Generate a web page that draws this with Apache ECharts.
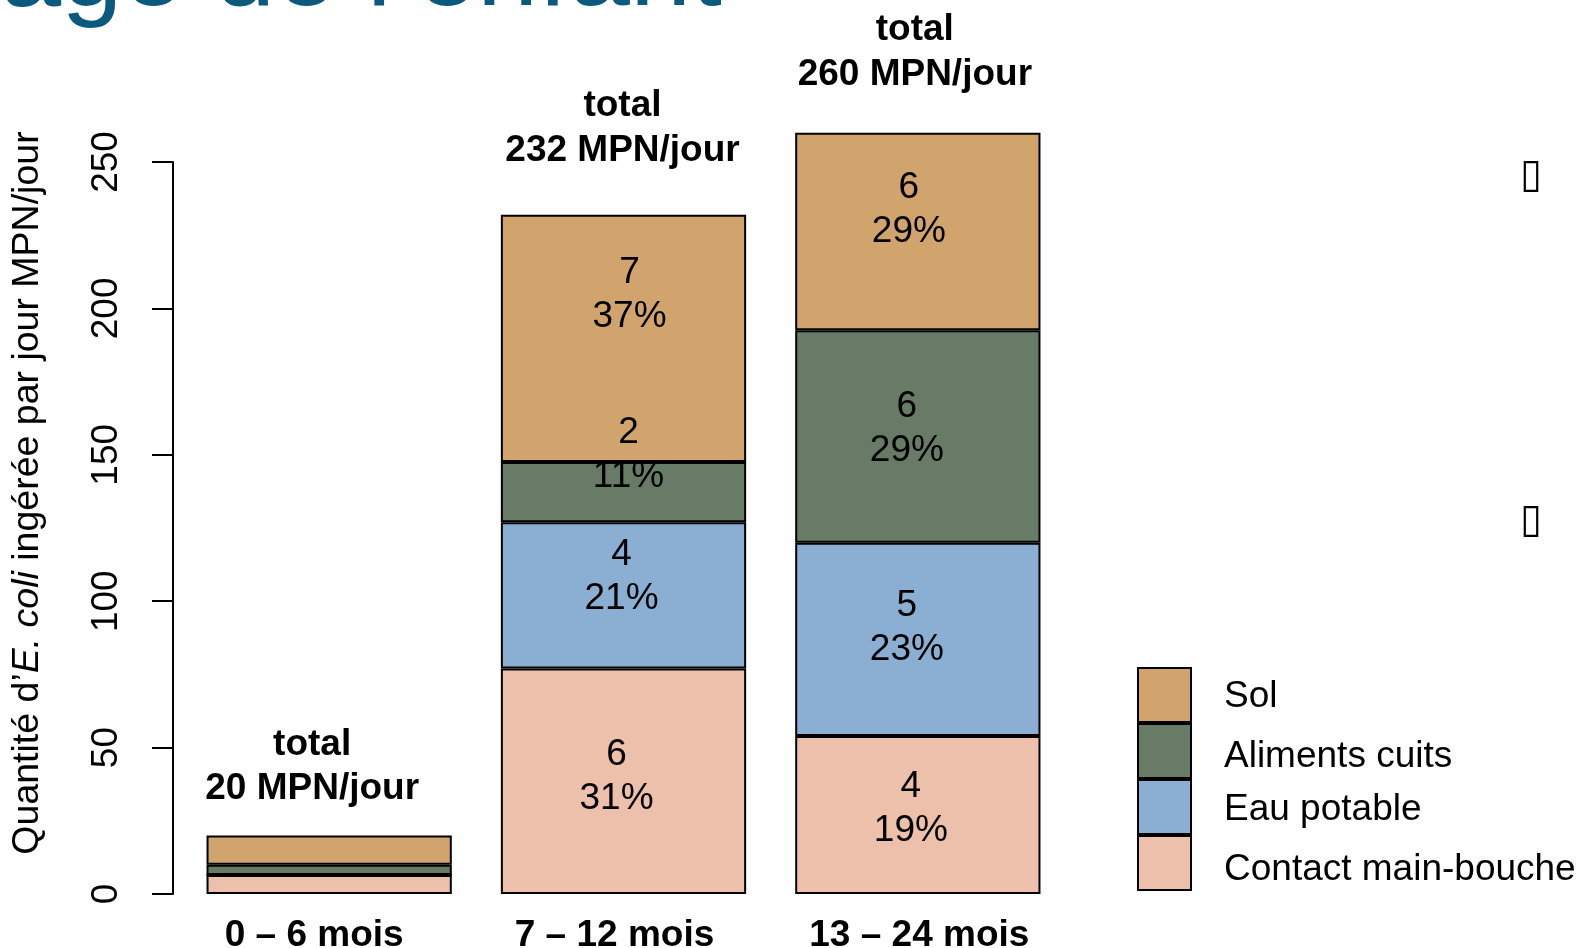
<!DOCTYPE html>
<html>
<head>
<meta charset="utf-8">
<script src="https://cdn.jsdelivr.net/npm/echarts@6/dist/echarts.min.js"></script>
<style>
  html, body { margin: 0; padding: 0; background: #ffffff; }
  #chart { width: 1581px; height: 948px; }
</style>
</head>
<body>
<div id="chart"></div>
<script>
// Age groups on the x axis
const categories = ['0 – 6 mois', '7 – 12 mois', '13 – 24 mois'];

// Daily E. coli intake (MPN/jour) by exposure route, one value per age group
const contactMainBouche = [6.5, 77, 54];
const eauPotable        = [0, 50, 66];
const alimentsCuits     = [3.5, 20.5, 72.5];
const sol               = [10, 84.5, 67.5];

// Text printed inside each segment: first line, second line (share of the total)
const contactLabels  = [null, ['6', '31%'], ['4', '19%']];
const eauLabels      = [null, ['4', '21%'], ['5', '23%']];
const alimentsLabels = [null, ['2', '11%'], ['6', '29%']];
const solLabels      = [null, ['7', '37%'], ['6', '29%']];

// Legend order (top to bottom)
const legendOrder = ['Sol', 'Aliments cuits', 'Eau potable', 'Contact main-bouche'];

// Y axis scale
const yTickStep = 50;
const yTickMax = 250;

const totals = categories.map((_, i) =>
  contactMainBouche[i] + eauPotable[i] + alimentsCuits[i] + sol[i]);

const FONT = '"Liberation Sans", Arial, sans-serif';
const colors = {
  'Contact main-bouche': '#ECC0AB',
  'Eau potable': '#8AAFD3',
  'Aliments cuits': '#677B67',
  'Sol': '#D0A46C'
};

// hand placement of the segment annotations relative to the segment centre
const segmentLabelShift = {
  'Contact main-bouche': [null, [-7, -4], [-7, -6]],
  'Eau potable':         [null, [-2, -19], [-11, -11]],
  'Aliments cuits':      [null, [5, -37], [-11, -8]],
  'Sol':                 [null, [6, -44], [-9, -22]]
};
const totalLabelShift = [[-17, -24], [-1, -42], [-3, -36]];
// line box height of each legend caption (text sits at its bottom)
const legendLineBox = [41, 49, 43, 51];

function segment(name, values, texts) {
  return {
    name: name,
    type: 'bar',
    stack: 'route',
    xAxisIndex: 0,
    yAxisIndex: 0,
    barCategoryGap: '16.667%',
    itemStyle: { color: colors[name], borderColor: '#000', borderWidth: 2 },
    label: {
      show: true,
      position: 'inside',
      fontFamily: FONT,
      fontSize: 37,
      lineHeight: 44,
      color: '#000',
      formatter: p => texts[p.dataIndex] ? texts[p.dataIndex].join('\n') : ''
    },
    silent: true,
    data: values.map((v, i) => ({
      value: v,
      label: texts[i] ? { offset: segmentLabelShift[name][i] } : { show: false }
    }))
  };
}

const legendRich = {};
legendOrder.forEach((name, i) => {
  legendRich['n' + i] = {
    fontFamily: FONT, fontSize: 37, color: '#000',
    lineHeight: legendLineBox[i], verticalAlign: 'bottom', padding: [0, 0, 0, 28]
  };
});

const chart = echarts.init(document.getElementById('chart'), null, { renderer: 'canvas' });

chart.setOption({
  backgroundColor: '#ffffff',
  animation: false,
  grid: [
    // plotting area for the bars (value range 0 – 260)
    { left: 182, width: 883, top: 132.7, bottom: 54, outerBoundsMode: 'none', containLabel: false },
    // frame carrying the drawn y axis (0 – 250)
    { left: 173, width: 10, top: 162, bottom: 54, outerBoundsMode: 'none', containLabel: false }
  ],
  xAxis: [
    {
      type: 'category',
      gridIndex: 0,
      data: categories,
      axisLine: { show: false },
      axisTick: { show: false },
      axisLabel: {
        interval: 0,
        hideOverlap: false,
        margin: 23,
        fontFamily: FONT,
        fontSize: 37,
        fontWeight: 'bold',
        color: '#000',
        formatter: (v, i) => '{c' + i + '|' + v + '}',
        rich: {
          c0: { fontFamily: FONT, fontSize: 37, fontWeight: 'bold', color: '#000', padding: [0, 30, 0, 0] },
          c1: { fontFamily: FONT, fontSize: 37, fontWeight: 'bold', color: '#000', padding: [0, 18, 0, 0] },
          c2: { fontFamily: FONT, fontSize: 37, fontWeight: 'bold', color: '#000', padding: [0, 0, 0, 3] }
        }
      }
    },
    { type: 'value', gridIndex: 1, show: false }
  ],
  yAxis: [
    { type: 'value', gridIndex: 0, min: 0, max: 260, show: false },
    {
      type: 'value',
      gridIndex: 1,
      min: 0,
      max: yTickMax,
      interval: yTickStep,
      axisLine: { show: true, lineStyle: { color: '#000', width: 2 } },
      axisTick: { show: true, length: 21, lineStyle: { color: '#000', width: 2 } },
      splitLine: { show: false },
      axisLabel: {
        rotate: 90,
        margin: 48,
        fontFamily: FONT,
        fontSize: 37,
        color: '#000'
      }
    }
  ],
  legend: {
    orient: 'vertical',
    left: 1137,
    top: 667,
    itemWidth: 53,
    itemHeight: 54,
    itemGap: 0,
    padding: 0,
    selectedMode: false,
    icon: 'rect',
    itemStyle: { borderColor: '#000', borderWidth: 2 },
    textStyle: { fontFamily: FONT, fontSize: 37, color: '#000', rich: legendRich },
    formatter: name => '{n' + legendOrder.indexOf(name) + '|' + name + '}',
    data: legendOrder
  },
  graphic: [
    {
      type: 'text',
      x: 0,
      y: -80,
      style: { text: "âge de l’enfant", fontFamily: FONT, fontSize: 110, fill: '#0B5A7E' }
    },
    {
      type: 'text',
      x: 28,
      y: 493,
      rotation: Math.PI / 2,
      style: {
        text: 'Quantité d’{it|E. coli} ingérée par jour MPN/jour',
        fontFamily: FONT,
        fontSize: 37.5,
        fill: '#000',
        align: 'center',
        verticalAlign: 'middle',
        rich: { it: { fontFamily: FONT, fontSize: 37.5, fontStyle: 'italic', fill: '#000' } }
      }
    },
    {
      type: 'text', x: 1531, y: 177,
      style: { text: '\u25AF', fontFamily: 'DejaVu Sans', fontSize: 40, fill: '#000', align: 'center', verticalAlign: 'middle' }
    },
    {
      type: 'text', x: 1531, y: 522,
      style: { text: '\u25AF', fontFamily: 'DejaVu Sans', fontSize: 40, fill: '#000', align: 'center', verticalAlign: 'middle' }
    }
  ],
  series: [
    segment('Contact main-bouche', contactMainBouche, contactLabels),
    segment('Eau potable', eauPotable, eauLabels),
    segment('Aliments cuits', alimentsCuits, alimentsLabels),
    segment('Sol', sol, solLabels),
    {
      name: 'total',
      type: 'scatter',
      xAxisIndex: 0,
      yAxisIndex: 0,
      symbolSize: 0,
      silent: true,
      itemStyle: { opacity: 1 },
      label: {
        show: true,
        position: 'top',
        distance: 0,
        formatter: p => '{t|total}\n{t|' + p.value + ' MPN/jour}',
        rich: {
          t: { fontFamily: FONT, fontSize: 37, fontWeight: 'bold', lineHeight: 44.6, color: '#000' }
        }
      },
      data: totals.map((t, i) => ({ value: t, label: { offset: totalLabelShift[i] } }))
    }
  ]
});
</script>
</body>
</html>
